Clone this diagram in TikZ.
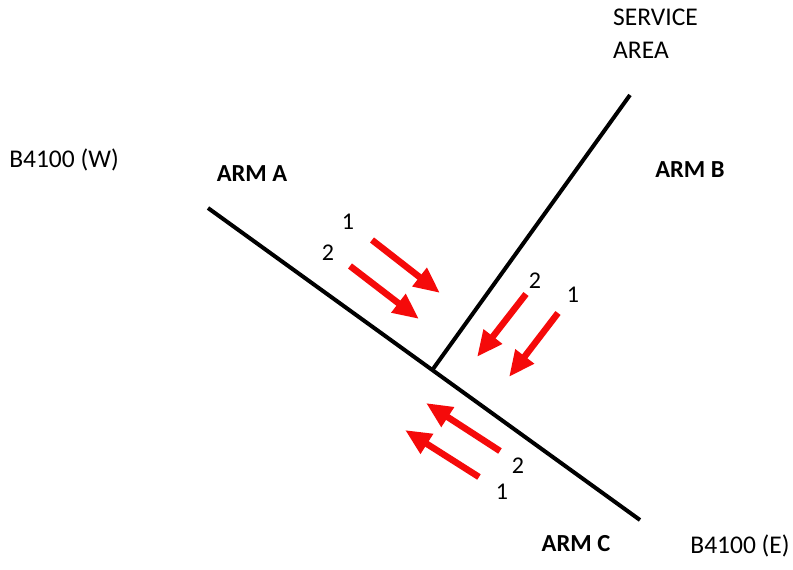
\documentclass[tikz,border=0pt]{standalone}
\usepackage{fontspec}
\setmainfont{Carlito}
\usetikzlibrary{arrows.meta}
\definecolor{flowred}{RGB}{245,10,10}

\begin{document}
\begin{tikzpicture}[
    x=1pt, y=-1pt,
    road/.style={line width=4pt, black},
    flow/.style={line width=6.5pt, flowred,
        -{Triangle[length=26pt, width=22pt]}},
    label/.style={font=\fontsize{25.5}{33}\selectfont, inner sep=0pt},
    armlabel/.style={label, font=\fontsize{24.5}{31}\selectfont\bfseries},
    num/.style={font=\fontsize{24}{28}\selectfont, inner sep=0pt}
]
    \useasboundingbox (0,0) rectangle (793,570);
    % road ends and junction
    \coordinate (west) at (208,208);
    \coordinate (junc) at (433,369);
    \coordinate (east) at (640,520);
    \coordinate (svc) at (630,95);
    \draw[road] (west) -- (east);
    \draw[road] (junc) -- (svc);

    % labels
    \node[label] (bw) at (64,160) {B4100 (W)};
    \node[label] (be) at (740,546) {B4100 (E)};
    \node[label, anchor=base west, align=left] (sa) at (613,58) {SERVICE\\AREA};
    \node[armlabel] (arma) at (252,174) {ARM A};
    \node[armlabel] (armb) at (690,170) {ARM B};
    \node[armlabel] (armc) at (576,544) {ARM C};

    % flows arm A
    \coordinate (a1s) at (372,240);
    \coordinate (a1e) at (440,293);
    \coordinate (a2s) at (350,266);
    \coordinate (a2e) at (419,319);
    \draw[flow] (a1s) -- (a1e);
    \draw[flow] (a2s) -- (a2e);
    \node[num] (na1) at (348,222) {1};
    \node[num] (na2) at (328,253) {2};

    % flows arm B
    \coordinate (b2s) at (526,294);
    \coordinate (b2e) at (477,357);
    \coordinate (b1s) at (558,313);
    \coordinate (b1e) at (509,377);
    \draw[flow] (b2s) -- (b2e);
    \draw[flow] (b1s) -- (b1e);
    \node[num] (nb2) at (535,281) {2};
    \node[num] (nb1) at (573,295) {1};

    % flows arm C
    \coordinate (c2s) at (500,451);
    \coordinate (c2e) at (426,403);
    \coordinate (c1s) at (479,477);
    \coordinate (c1e) at (405,430);
    \draw[flow] (c2s) -- (c2e);
    \draw[flow] (c1s) -- (c1e);
    \node[num] (nc2) at (518,466) {2};
    \node[num] (nc1) at (502,492) {1};
\end{tikzpicture}
\end{document}
